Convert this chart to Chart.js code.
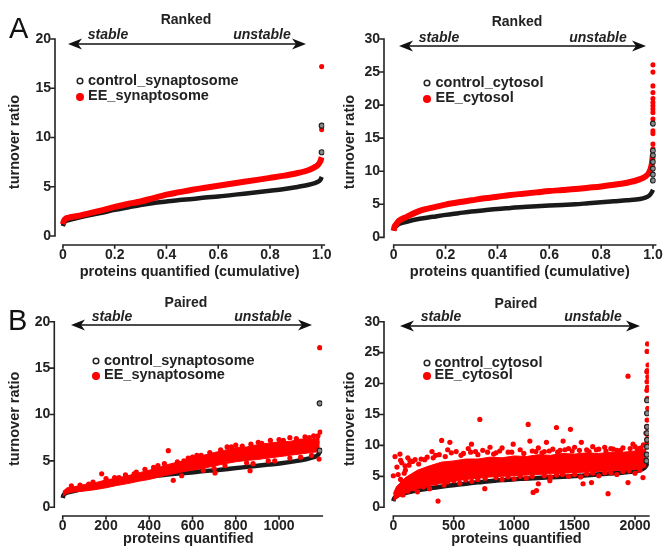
<!DOCTYPE html>
<html>
<head>
<meta charset="utf-8">
<script src="https://cdn.jsdelivr.net/npm/chart.js@4.4.1/dist/chart.umd.min.js"></script>
<style>
  html, body { margin: 0; padding: 0; background: #fff; overflow: hidden; }
  #wrap { position: relative; width: 666px; height: 548px; }
  canvas { position: absolute; }
</style>
</head>
<body>
<div id="wrap">
  <canvas id="cA1" width="333" height="290" style="left:0;top:0"></canvas>
  <canvas id="cA2" width="333" height="290" style="left:333px;top:0"></canvas>
  <canvas id="cB1" width="333" height="274" style="left:0;top:274px"></canvas>
  <canvas id="cB2" width="333" height="274" style="left:333px;top:274px"></canvas>
</div>
<script>
// ranked curves: fraction of proteins (cumulative) vs turnover ratio
const rankX   = [0, 0.003, 0.01, 0.02, 0.05, 0.1, 0.15, 0.2, 0.25, 0.3, 0.35, 0.4, 0.45, 0.5, 0.55, 0.6, 0.65, 0.7, 0.75, 0.8, 0.85, 0.9, 0.95, 0.97, 0.985, 0.995, 1.0];
const synCtrl = [1.0, 1.3, 1.5, 1.6, 1.8, 2.1, 2.35, 2.65, 2.9, 3.15, 3.35, 3.5, 3.65, 3.75, 3.9, 4.0, 4.15, 4.3, 4.45, 4.6, 4.75, 4.95, 5.2, 5.35, 5.5, 5.7, 6.0];
const synEE   = [1.2, 1.5, 1.75, 1.85, 2.0, 2.3, 2.6, 2.95, 3.25, 3.5, 3.85, 4.2, 4.45, 4.7, 4.9, 5.1, 5.3, 5.5, 5.7, 5.9, 6.1, 6.35, 6.7, 6.95, 7.2, 7.6, 8.0];
const cytCtrl = [1.0, 1.4, 1.7, 2.0, 2.35, 2.8, 3.1, 3.4, 3.65, 3.9, 4.1, 4.3, 4.45, 4.6, 4.7, 4.8, 4.9, 5.0, 5.15, 5.3, 5.45, 5.6, 5.8, 6.0, 6.3, 6.8, 7.2];
const cytEE   = [1.0, 1.6, 2.0, 2.5, 3.1, 4.0, 4.5, 4.95, 5.3, 5.6, 5.9, 6.15, 6.4, 6.6, 6.8, 7.0, 7.15, 7.3, 7.5, 7.7, 7.95, 8.25, 8.8, 9.2, 9.8, 11.0, 12.6];

// separate points at the unstable end (x = 1.0)
const synCtrlTail = [8.5, 11.2];
const synEETail   = [10.8, 17.2];
const cytCtrlTail = [17.2, 13.1, 12.4, 11.4, 10.4, 9.5, 8.6];
const cytEETail   = [26.1, 25.0, 22.9, 21.9, 21.0, 20.4, 19.9, 19.4, 18.9, 17.9, 16.1, 15.7, 14.1, 13.4];

// paired: proteins in control rank order
const synCount = 1188;
const cytCount = 2105;

const pairedSynX    = [0, 20, 50, 100, 150, 200, 250, 300, 350, 400, 450, 500, 550, 600, 650, 700, 750, 800, 850, 900, 950, 1000, 1050, 1100, 1150, 1188];
const pairedSynLow  = [1.2, 1.5, 1.65, 1.75, 1.9, 2.1, 2.35, 2.55, 2.8, 3.0, 3.3, 3.55, 3.8, 4.0, 4.2, 4.45, 4.7, 4.9, 5.05, 5.15, 5.3, 5.45, 5.6, 5.75, 5.9, 6.0];
const pairedSynHigh = [1.7, 2.1, 2.2, 2.45, 2.65, 2.95, 3.15, 3.4, 3.7, 4.0, 4.35, 4.7, 4.95, 5.3, 5.6, 5.9, 6.15, 6.45, 6.5, 6.75, 6.9, 7.05, 7.1, 7.35, 7.35, 7.55];
const pairedSynOutX = [180, 488, 511, 550, 704, 866, 904, 1185, 1190, 1188, 120, 260, 330, 420, 600, 640, 760, 800, 960, 1000, 1050, 1120, 1160, 1175, 980, 880, 700, 560,
  40, 80, 140, 200, 240, 290, 340, 380, 440, 470, 530, 580, 620, 680, 730, 780, 830, 870, 920, 1020, 1080, 1140, 1180,
  650, 750, 850, 950, 1050, 1100, 1150];
const pairedSynOutY = [3.6, 6.1, 2.9, 3.4, 3.7, 3.95, 7.0, 5.2, 8.1, 17.2, 2.5, 3.2, 3.6, 4.3, 5.4, 5.6, 6.5, 6.7, 7.2, 7.3, 7.5, 7.6, 7.7, 7.0, 5.0, 4.7, 4.2, 5.0,
  2.3, 2.4, 2.7, 3.1, 3.2, 3.5, 3.8, 4.1, 4.5, 4.7, 4.9, 5.3, 5.6, 5.9, 6.2, 6.5, 6.6, 6.8, 6.9, 7.2, 7.4, 7.5, 7.7,
  4.0, 4.5, 4.8, 5.0, 5.3, 5.4, 5.6];
const pairedSynCtrlTailX = [1188, 1188];
const pairedSynCtrlTailY = [11.2, 6.1];

const pairedCytX    = [0, 25, 50, 100, 150, 200, 300, 400, 500, 600, 700, 800, 900, 1000, 1100, 1200, 1300, 1400, 1500, 1600, 1700, 1800, 1900, 2000, 2060, 2095];
const pairedCytLow  = [1.0, 1.4, 1.7, 2.3, 2.7, 3.0, 3.5, 3.9, 4.2, 4.5, 4.7, 4.9, 5.0, 5.1, 5.2, 5.3, 5.4, 5.5, 5.6, 5.7, 5.8, 5.9, 6.0, 6.1, 6.3, 6.6];
const pairedCytHigh = [2.2, 3.3, 3.8, 4.8, 5.4, 6.0, 6.7, 7.3, 7.5, 7.8, 7.8, 8.1, 8.0, 8.3, 8.2, 8.5, 8.4, 8.7, 8.6, 8.8, 8.7, 8.9, 8.9, 9.1, 9.2, 9.6];
const pairedCytOutX = [0, 14, 55, 97, 138, 370, 400, 468, 716, 757, 1116, 1157, 1185, 1350, 1466, 1570, 1640, 1777, 1942, 1942, 2066, 1295, 1267, 647, 800, 992, 1130, 1405, 1556, 1749, 1983,
  60, 120, 180, 230, 250, 280, 320, 350, 450, 520, 580, 620, 680, 740, 850, 900, 950, 1050, 1150, 1200, 1250, 1320, 1380, 1450, 1500, 1600, 1650, 1700, 1800, 1850, 1900, 2000, 2030, 2070,
  200, 300, 420, 550, 650, 900, 1000, 1100, 1200, 1300, 1450, 1550, 1700, 1850, 2000, 150, 80, 40, 100, 60, 2100, 2080, 2090,
  30, 70, 90, 130, 160, 210, 260, 330, 380, 430, 480, 560, 640, 700, 780, 830, 880, 980, 1080, 1180, 1230, 1290, 1360, 1420, 1480, 1540, 1620, 1680, 1760, 1820, 1880, 1960, 2020, 2050,
  120, 170, 240, 280, 350, 450, 500, 600, 700, 760, 850, 950, 1050, 1150, 1250, 1350, 1400, 1500, 1600, 1650, 1750, 1800, 1900, 1950, 2040,
  2104, 2100, 2108, 2102, 2098, 2106, 2100, 2104, 2098, 2102, 2106, 2100, 2096, 2104, 2100];
const pairedCytOutY = [5.1, 8.2, 8.6, 6.7, 7.5, 1.0, 10.8, 10.5, 14.2, 3.0, 13.4, 2.4, 2.7, 12.9, 12.6, 3.8, 4.0, 2.2, 21.2, 4.0, 4.8, 4.3, 10.5, 10.2, 9.7, 10.2, 10.7, 10.7, 10.5, 9.7, 10.2,
  7.6, 8.0, 7.7, 7.8, 3.3, 8.1, 9.0, 8.4, 9.3, 9.0, 8.7, 9.5, 9.0, 9.2, 8.8, 9.6, 8.9, 9.3, 9.1, 9.6, 9.0, 9.4, 9.2, 9.5, 9.7, 9.3, 9.8, 9.4, 9.5, 9.2, 9.6, 9.8, 9.5, 10.1,
  2.5, 3.0, 3.6, 3.9, 4.2, 4.5, 4.6, 4.7, 3.8, 4.9, 5.0, 4.9, 5.1, 5.3, 5.5, 4.7, 2.0, 5.3, 6.0, 4.5, 10.5, 8.5, 12.0,
  6.5, 7.2, 5.5, 6.8, 7.4, 7.0, 7.7, 8.0, 8.5, 8.2, 8.8, 8.4, 8.9, 8.5, 8.9, 8.6, 9.1, 8.9, 8.7, 9.0, 8.8, 9.1, 8.9, 9.3, 9.1, 9.2, 9.0, 9.3, 9.1, 9.4, 9.2, 9.5, 9.3, 9.6,
  2.6, 3.0, 3.4, 3.6, 3.9, 4.1, 4.3, 4.4, 4.5, 4.7, 4.8, 4.9, 5.0, 5.0, 5.1, 5.2, 5.3, 5.3, 5.4, 5.5, 5.6, 5.6, 5.8, 5.9, 6.0,
  26.4, 25.2, 23.0, 22.1, 21.9, 21.1, 20.3, 19.4, 18.9, 17.6, 16.0, 14.1, 13.0, 11.0, 11.8];
const pairedCytCtrlTailX = [2100, 2100, 2100, 2100, 2100, 2100, 2098, 2095];
const pairedCytCtrlTailY = [17.3, 15.2, 13.0, 12.0, 10.9, 9.8, 8.5, 7.5];

const rankedTicks = [0, 0.2, 0.4, 0.6, 0.8, 1.0];
const synPairTicks = [0, 200, 400, 600, 800, 1000];
const cytPairTicks = [0, 500, 1000, 1500, 2000];
const ticks20 = [0, 5, 10, 15, 20];
const ticks30 = [0, 5, 10, 15, 20, 25, 30];

const synLabels = ['control_synaptosome', 'EE_synaptosome'];
const cytLabels = ['control_cytosol', 'EE_cytosol'];

const RED = '#ff0000';
const BLACK = '#1a1a1a';
const FONT = '"Liberation Sans", Arial, sans-serif';
Chart.defaults.font.family = FONT;

const pts = (xs, ys) => xs.map((x, i) => ({x: x, y: ys[i]}));
const atEnd = (x, ys) => ys.map(y => ({x: x, y: y}));

function ctrlLine(data) {
  return {data: data, borderColor: BLACK, borderWidth: 4.5, pointRadius: 0, cubicInterpolationMode: 'monotone', fill: false, order: 5};
}
function eeLine(data) {
  return {data: data, borderColor: RED, borderWidth: 6, pointRadius: 0, cubicInterpolationMode: 'monotone', fill: false, order: 3};
}
function ctrlDots(data) {
  return {data: data, showLine: false, pointRadius: 2.5, pointBorderWidth: 1.2, pointBorderColor: '#222', pointBackgroundColor: '#8a8a8a', order: 0};
}
function eeDots(data) {
  return {data: data, showLine: false, pointRadius: 2.6, pointBorderWidth: 0, pointBackgroundColor: RED, order: 1};
}
function eeBand(data, fill) {
  return {data: data, borderColor: RED, borderWidth: 1, pointRadius: 0, backgroundColor: RED, fill: fill, order: 2};
}

const decoPlugin = {
  id: 'deco',
  beforeDatasetsDraw(chart, args, o) {
    const {ctx, chartArea: ca} = chart;
    const x = chart.scales.x, y = chart.scales.y;
    ctx.save();
    ctx.strokeStyle = '#222';
    ctx.lineWidth = 1.6;
    ctx.lineCap = 'square';
    ctx.beginPath();
    ctx.moveTo(ca.left, y.getPixelForValue(0));
    ctx.lineTo(ca.left, y.getPixelForValue(y.max));
    y.ticks.forEach(t => {
      const p = y.getPixelForValue(t.value);
      ctx.moveTo(ca.left - 4, p); ctx.lineTo(ca.left, p);
    });
    ctx.moveTo(x.getPixelForValue(0), ca.bottom);
    ctx.lineTo(x.getPixelForValue(x.max), ca.bottom);
    x.ticks.forEach(t => {
      const p = x.getPixelForValue(t.value);
      ctx.moveTo(p, ca.bottom); ctx.lineTo(p, ca.bottom + 3);
    });
    ctx.stroke();
    ctx.restore();
  },
  afterDraw(chart, args, o) {
    const ctx = chart.ctx;
    ctx.save();
    ctx.fillStyle = '#111';
    // panel letter
    ctx.font = '29px ' + FONT;
    ctx.textAlign = 'left';
    ctx.textBaseline = 'alphabetic';
    ctx.fillText(o.letter, o.letterPos[0], o.letterPos[1]);
    // title
    ctx.fillStyle = '#222';
    ctx.font = 'bold 14px ' + FONT;
    ctx.textAlign = 'center';
    ctx.textBaseline = 'middle';
    ctx.fillText(o.title, o.titlePos[0], o.titlePos[1]);
    // stable / unstable
    ctx.font = 'italic bold 14px ' + FONT;
    ctx.fillText('stable', o.stable[0], o.stable[1]);
    ctx.fillText('unstable', o.unstable[0], o.unstable[1]);
    // double arrow
    const [x1, x2, ay] = o.arrow;
    ctx.strokeStyle = '#111';
    ctx.fillStyle = '#111';
    ctx.lineWidth = 1.5;
    ctx.beginPath();
    ctx.moveTo(x1 + 6, ay); ctx.lineTo(x2 - 6, ay);
    ctx.stroke();
    [[x1, -1], [x2, 1]].forEach(([hx, d]) => {
      ctx.beginPath();
      ctx.moveTo(hx, ay);
      ctx.lineTo(hx - d * 14, ay - 5.5);
      ctx.lineTo(hx - d * 10, ay);
      ctx.lineTo(hx - d * 14, ay + 5.5);
      ctx.closePath();
      ctx.fill();
    });
    // legend
    ctx.font = 'bold 14.5px ' + FONT;
    ctx.textAlign = 'left';
    ctx.fillStyle = '#222';
    const lg = o.legend;
    ctx.beginPath();
    ctx.arc(lg.x, lg.y[0], 2.8, 0, Math.PI * 2);
    ctx.lineWidth = 1.5;
    ctx.strokeStyle = '#222';
    ctx.stroke();
    ctx.fillText(lg.labels[0], lg.textX, lg.y[0]);
    ctx.beginPath();
    ctx.arc(lg.x, lg.y[1] + 1, 4, 0, Math.PI * 2);
    ctx.fillStyle = RED;
    ctx.fill();
    ctx.fillStyle = '#222';
    ctx.fillText(lg.labels[1], lg.textX, lg.y[1]);
    ctx.restore();
  }
};

function makePanel(id, p) {
  new Chart(document.getElementById(id), {
    type: 'line',
    data: {datasets: p.datasets},
    options: {
      responsive: false,
      animation: false,
      layout: {padding: {left: 0, top: p.top, right: p.right, bottom: 0}},
      plugins: {legend: {display: false}, tooltip: {enabled: false}, deco: p.deco},
      scales: {
        x: {
          type: 'linear', min: p.xMin, max: p.xMax,
          grid: {display: false, drawTicks: false}, border: {display: false},
          afterBuildTicks: s => { s.ticks = p.xTicks.map(v => ({value: v})); },
          afterFit: s => { s.height = p.xHeight; },
          ticks: {autoSkip: false, maxRotation: 0, padding: 1.5, color: '#222', font: {size: 14, weight: 'bold'}, callback: p.xFmt},
          title: {display: true, text: p.xTitle, color: '#222', font: {size: 14.5, weight: 'bold'}, padding: {top: 0, bottom: p.xTitlePad}}
        },
        y: {
          type: 'linear', min: p.yMin, max: p.yMax,
          grid: {display: false, drawTicks: false}, border: {display: false},
          afterBuildTicks: s => { s.ticks = p.yTicks.map(v => ({value: v})); },
          afterFit: s => { s.width = p.yWidth; },
          ticks: {padding: 4, color: '#222', font: {size: 14, weight: 'bold'}},
          title: {display: true, text: 'turnover ratio', color: '#222', font: {size: 14.5, weight: 'bold'}, padding: {top: p.yTitlePad, bottom: 0}}
        }
      }
    },
    plugins: [decoPlugin]
  });
}

const fracFmt = v => v === 0 ? '0' : v.toFixed(1);
const intFmt = v => String(v);

makePanel('cA1', {
  datasets: [
    ctrlLine(pts(rankX, synCtrl)), eeLine(pts(rankX, synEE)),
    ctrlDots(atEnd(1.0, synCtrlTail)), eeDots(atEnd(1.0, synEETail))
  ],
  top: 39, right: 6.4, xHeight: 45, yWidth: 55,
  xMin: -0.0307, xMax: 1.01, yMin: -0.914, yMax: 20,
  xTicks: rankedTicks, yTicks: ticks20, xFmt: fracFmt,
  xTitle: 'proteins quantified (cumulative)', xTitlePad: 9, yTitlePad: 6,
  deco: {letter: 'A', letterPos: [9, 38], title: 'Ranked', titlePos: [186, 20],
    arrow: [68, 306, 44], stable: [108, 35], unstable: [262, 35],
    legend: {x: 80, textX: 88, y: [81, 96], labels: synLabels}}
});

makePanel('cA2', {
  datasets: [
    ctrlLine(pts(rankX, cytCtrl)), eeLine(pts(rankX, cytEE)),
    ctrlDots(atEnd(1.0, cytCtrlTail)), eeDots(atEnd(1.0, cytEETail))
  ],
  top: 39, right: 10.4, xHeight: 45, yWidth: 51,
  xMin: -0.0374, xMax: 1.01, yMin: -1.16, yMax: 30,
  xTicks: rankedTicks, yTicks: ticks30, xFmt: fracFmt,
  xTitle: 'proteins quantified (cumulative)', xTitlePad: 9, yTitlePad: 8,
  deco: {letter: '', letterPos: [0, 0], title: 'Ranked', titlePos: [184, 22],
    arrow: [66, 313, 46], stable: [106, 38], unstable: [265, 38],
    legend: {x: 94, textX: 102.5, y: [83, 98], labels: cytLabels}}
});

makePanel('cB1', {
  datasets: [
    ctrlLine(rankX.map((f, i) => ({x: f * synCount, y: synCtrl[i]}))),
    eeBand(pts(pairedSynX, pairedSynLow), false),
    eeBand(pts(pairedSynX, pairedSynHigh), '-1'),
    eeDots(pts(pairedSynOutX, pairedSynOutY)),
    ctrlDots(pts(pairedSynCtrlTailX, pairedSynCtrlTailY))
  ],
  top: 47.7, right: 10.7, xHeight: 32, yWidth: 54.3,
  xMin: -39, xMax: 1200, yMin: -0.94, yMax: 20,
  xTicks: synPairTicks, yTicks: ticks20, xFmt: intFmt,
  xTitle: 'proteins quantified', xTitlePad: 0, yTitlePad: 6,
  deco: {letter: 'B', letterPos: [8, 56], title: 'Paired', titlePos: [186, 29],
    arrow: [71, 312, 51], stable: [112, 43], unstable: [263, 43],
    legend: {x: 96, textX: 104, y: [87, 101], labels: synLabels}}
});

makePanel('cB2', {
  datasets: [
    ctrlLine(rankX.map((f, i) => ({x: f * cytCount, y: cytCtrl[i]}))),
    eeBand(pts(pairedCytX, pairedCytLow), false),
    eeBand(pts(pairedCytX, pairedCytHigh), '-1'),
    eeDots(pts(pairedCytOutX, pairedCytOutY)),
    ctrlDots(pts(pairedCytCtrlTailX, pairedCytCtrlTailY))
  ],
  top: 47.7, right: 17.1, xHeight: 32, yWidth: 51,
  xMin: -77, xMax: 2115, yMin: -1.41, yMax: 30,
  xTicks: cytPairTicks, yTicks: ticks30, xFmt: intFmt,
  xTitle: 'proteins quantified', xTitlePad: 0, yTitlePad: 8,
  deco: {letter: '', letterPos: [0, 0], title: 'Paired', titlePos: [183, 30],
    arrow: [67, 307, 52], stable: [108, 43], unstable: [260, 43],
    legend: {x: 94, textX: 101.5, y: [89, 101], labels: cytLabels}}
});
</script>
</body>
</html>
